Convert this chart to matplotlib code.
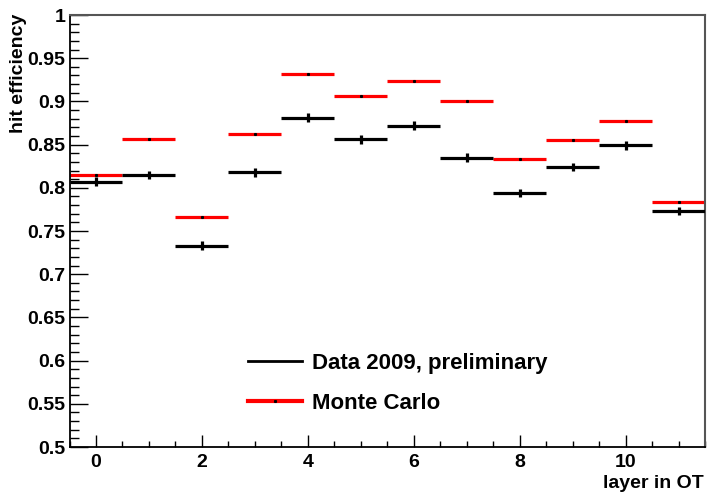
#! /usr/bin/env python

import numpy as np
from matplotlib import pyplot as plt
from matplotlib.lines import Line2D
from matplotlib.ticker import MultipleLocator

plt.rcParams['font.family'] = ['Liberation Sans', 'DejaVu Sans']
plt.rcParams['font.weight'] = 'bold'

layers = np.arange(12)
data_eff = [0.807, 0.815, 0.733, 0.818, 0.881, 0.856,
            0.872, 0.835, 0.794, 0.824, 0.849, 0.773]
data_err = [0.005] * 12
mc_eff = [0.815, 0.857, 0.766, 0.862, 0.932, 0.906,
          0.924, 0.900, 0.833, 0.855, 0.877, 0.784]
mc_err = [0.001] * 12

W, H = 708, 495
fig = plt.figure(figsize=(W / 100, H / 100), dpi=100)
ax = fig.add_axes([69.5 / W, 1 - 447 / H, (705.3 - 69.5) / W, (447 - 15) / H])

ax.errorbar(layers, mc_eff, xerr=0.5, yerr=mc_err, fmt='none',
            ecolor='#ff0000', elinewidth=2.3, capsize=0, zorder=2)
ax.plot(layers, mc_eff, ls='none', marker='s', ms=1.2, color='black', zorder=3)
ax.errorbar(layers, data_eff, xerr=0.5, yerr=data_err, fmt='none',
            ecolor='black', elinewidth=2.3, capsize=0, zorder=4)

ax.set_xlim(-0.5, 11.5)
ax.set_ylim(0.5, 1.0)

ax.xaxis.set_major_locator(MultipleLocator(2))
ax.xaxis.set_minor_locator(MultipleLocator(0.5))
ax.yaxis.set_minor_locator(MultipleLocator(0.01))
ax.set_yticks(np.arange(0.5, 1.001, 0.05))
ax.set_yticklabels(['0.5', '0.55', '0.6', '0.65', '0.7', '0.75',
                    '0.8', '0.85', '0.9', '0.95', '1'])

ax.tick_params(which='both', direction='in', top=False, right=False,
               labelsize=14, color='black', width=1)
ax.tick_params(axis='y', which='major', length=13, pad=3)
ax.tick_params(axis='y', which='minor', length=6.5)
ax.tick_params(axis='x', which='major', length=9, pad=5)
ax.tick_params(axis='x', which='minor', length=4.5)

for s in ['left', 'bottom']:
    ax.spines[s].set_color('black')
    ax.spines[s].set_linewidth(1.3)
for s in ['top', 'right']:
    ax.spines[s].set_color('#555555')
    ax.spines[s].set_linewidth(1.5)

fig.text(19 / W, 1 - 14 / H, 'hit efficiency', rotation=90,
         ha='center', va='top', fontsize=14, fontweight='bold')
fig.text(704 / W, 1 - 483 / H, 'layer in OT', ha='right', va='center',
         fontsize=14, fontweight='bold')

handles = [Line2D([], [], color='black', lw=2),
           Line2D([], [], color='#ff0000', lw=3, marker='s', ms=1.2,
                  mfc='black', mec='black')]
ax.legend(handles, ['Data 2009, preliminary', 'Monte Carlo'],
          loc='upper left', bbox_to_anchor=(248 / W, 1 - 353 / H),
          bbox_transform=fig.transFigure, frameon=False, borderpad=0,
          handlelength=2.43, handletextpad=0.45, labelspacing=0.85,
          borderaxespad=0, prop={'size': 16, 'weight': 'bold'})

fig.savefig('out.png', dpi=100)
